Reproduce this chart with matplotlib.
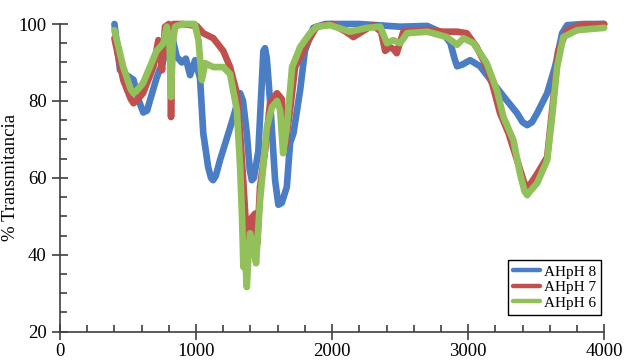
import numpy as np
import matplotlib.pyplot as plt
from matplotlib.ticker import MultipleLocator

plt.rcParams['font.family'] = ['Liberation Serif', 'DejaVu Serif']

# AHpH 8 (azul)
wn_8 = [400, 441, 490, 540, 580, 612, 640, 660, 710, 760, 808, 835, 858, 895, 925, 956, 993,
        1029, 1053, 1089, 1110, 1125, 1145, 1176, 1250, 1274, 1300, 1324, 1345, 1373, 1395, 1410,
        1425, 1458, 1495, 1507, 1520, 1544, 1581, 1605, 1630, 1667, 1691, 1716, 1765, 1800, 1862,
        1950, 2200, 2500, 2700, 2816, 2870, 2900, 2919, 2960, 3015, 3088, 3184, 3287, 3360, 3400,
        3434, 3470, 3507, 3581, 3640, 3691, 3728, 3850, 4000]
t_8 = [100, 88, 86.7, 85.5, 80, 77, 77.5, 80, 86, 90.6, 99, 95, 91.5, 90, 91, 86.7, 90.6,
       86, 71.6, 62.8, 60, 59.4, 60.5, 64.6, 73, 75.8, 79, 82, 80, 71.6, 62, 59.4,
       60, 67, 93, 93.7, 91, 80, 59.4, 53, 53.5, 57.6, 69, 71.6, 82.8, 93, 99,
       100, 100, 99.3, 99.5, 97.6, 95, 91, 89, 89.5, 90.6, 89, 84.6, 80, 76.8, 74.5,
       73.7, 74.5, 76.8, 82, 89, 97.6, 99.7, 100, 100]

# AHpH 7 (rojo)
wn_7 = [400, 465, 520, 540, 560, 610, 686, 723, 750, 772, 800, 812, 816, 822, 834, 900, 1005,
        1053, 1127, 1200, 1250, 1300, 1324, 1348, 1373, 1390, 1410, 1434, 1450, 1470,
        1507, 1544, 1595, 1630, 1654, 1691, 1728, 1765, 1814, 1887, 2000, 2100, 2157,
        2220, 2300, 2360, 2390, 2426, 2450, 2475, 2524, 2700, 2816, 2919, 2990, 3063,
        3137, 3184, 3235, 3297, 3360, 3410, 3434, 3460, 3507, 3581, 3625, 3662, 3728, 3824, 4000]
t_7 = [96.3, 85.4, 80.5, 79.4, 80, 82, 88.8, 95.8, 88, 99.3, 100, 90, 75.8, 90, 100, 100, 99.5,
       97.6, 96.3, 93, 88.8, 82, 71.6, 58.6, 43.7, 42, 49.7, 50.7, 43, 57.6,
       67, 79.4, 82, 80.5, 68, 77.6, 88.8, 91.4, 95, 99.3, 100, 98, 96.6,
       98, 99.7, 98, 93, 94, 93.5, 92.4, 98, 98.5, 98, 98, 97.6, 94,
       88.8, 83.6, 76.8, 71.6, 64.6, 59, 57.3, 58.5, 61, 65.4, 80, 93, 98.4, 99.7, 100]

# AHpH 6 (verde)
wn_6 = [400, 465, 520, 540, 560, 610, 710, 760, 785, 805, 816, 828, 846, 900, 990, 1018, 1042,
        1067, 1127, 1200, 1250, 1300, 1324, 1338, 1348, 1360, 1373, 1385, 1397, 1420,
        1441, 1470, 1521, 1558, 1595, 1618, 1640, 1667, 1706, 1765, 1838, 1887, 1985,
        2132, 2257, 2353, 2404, 2449, 2500, 2551, 2700, 2843, 2919, 2966, 3040, 3137,
        3211, 3260, 3333, 3382, 3415, 3434, 3455, 3507, 3581, 3617, 3654, 3699, 3801, 4000]
t_6 = [98.4, 88.8, 83, 82, 82.5, 84.6, 93, 95, 99.3, 95, 81, 95, 99.3, 100, 100, 95.8, 85.4,
       89.8, 88.8, 88.8, 87, 77.6, 62.8, 49.7, 36.8, 40.4, 31.6, 40, 45.6, 42,
       37.8, 54, 73.2, 78.4, 80, 77.6, 66.4, 73.2, 88.8, 94, 97.6, 99.3, 99.7,
       98, 99, 99.3, 95, 95.8, 95, 97.6, 98, 96.6, 94.6, 96.3, 95, 89.8,
       82.8, 75.8, 69.8, 61, 56.5, 55.5, 56.5, 58.6, 64.6, 75.8, 88.8, 96.6, 98.4, 99]

series = [
    (wn_8, t_8, '#4a7dc4', 'AHpH 8'),
    (wn_7, t_7, '#c0504d', 'AHpH 7'),
    (wn_6, t_6, '#92c05a', 'AHpH 6'),
]

fig = plt.figure(figsize=(6.24, 3.62), dpi=100)
ax = fig.add_axes([0.0962, 0.0837, 0.872, 0.85])

for wn, t, color, label in series:
    ax.plot(wn, t, color=color, lw=4.8, label=label, clip_on=False,
            solid_joinstyle='round', solid_capstyle='round')

ax.set_xlim(0, 4000)
ax.set_ylim(20, 100)
ax.set_ylabel('% Transmitancia', fontsize=13.5)
ax.yaxis.set_label_coords(-0.075, 0.5)

# ticks: mayores cruzando el eje, menores hacia dentro
ax.xaxis.set_major_locator(MultipleLocator(1000))
ax.xaxis.set_minor_locator(MultipleLocator(200))
ax.yaxis.set_major_locator(MultipleLocator(20))
ax.yaxis.set_minor_locator(MultipleLocator(5))
ax.tick_params(which='major', direction='inout', length=12, width=1.2,
               labelsize=13.5, color='#404040')
ax.tick_params(which='minor', direction='in', length=5, width=1.2, color='#404040')
ax.tick_params(axis='x', pad=2)

for side in ['top', 'right']:
    ax.spines[side].set_visible(False)
for side in ['left', 'bottom']:
    ax.spines[side].set_color('#404040')
    ax.spines[side].set_linewidth(1.2)

leg = ax.legend(loc='lower right', bbox_to_anchor=(0.9945, 0.054), borderaxespad=0,
                fontsize=11, frameon=True, fancybox=False, edgecolor='black',
                framealpha=1, handlelength=1.75, handletextpad=0.25, borderpad=0.35,
                labelspacing=0.12)
leg.get_frame().set_linewidth(1.0)
for line in leg.get_lines():
    line.set_linewidth(3.2)

fig.savefig('out.png', dpi=100)
